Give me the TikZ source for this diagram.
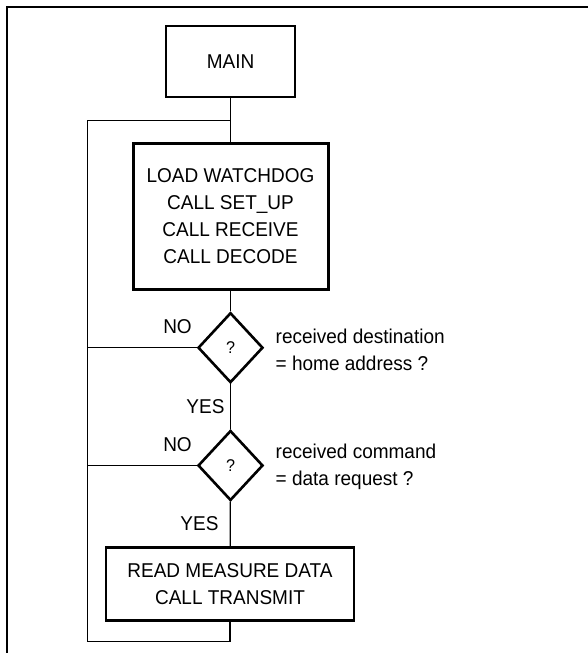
\documentclass[tikz,border=0pt]{standalone}
\usepackage{fontspec}
\setmainfont[FakeStretch=0.95]{Liberation Sans}
\usetikzlibrary{shapes.geometric}
\begin{document}
\begin{tikzpicture}[x=1pt,y=-1pt,
  lbl/.style={font=\fontsize{20}{27}\selectfont, inner sep=0pt},
  procbox/.style={draw, align=center, inner sep=0pt, font=\fontsize{20}{27}\selectfont},
  decision/.style={draw, diamond, line width=2.6pt, inner sep=0pt, minimum width=65pt, minimum height=70pt, aspect=0.93, font=\fontsize{17}{18}\selectfont},
  conn/.style={line width=1.3pt}]
\useasboundingbox (0,0) rectangle (587,653);
% outer frame (top and left)
\coordinate (ftl) at (7,7);
\coordinate (ftr) at (590,7);
\coordinate (fbl) at (7,656);
\draw[line width=2.2pt] (ftr) -- (ftl) -- (fbl);

\node[procbox, line width=2pt, minimum width=129pt, minimum height=71pt] (main) at (230.5,61.5) {MAIN};
\node[procbox, line width=3pt, minimum width=195pt, minimum height=146pt] (load) at (230.5,216)
  {LOAD WATCHDOG\\CALL SET\_UP\\CALL RECEIVE\\CALL DECODE};
\node[decision] (d1) at (230.5,347.7) {?};
\node[decision] (d2) at (230.5,465.5) {?};
\node[procbox, line width=2.6pt, minimum width=248pt, minimum height=73pt] (read) at (230,583.7)
  {READ MEASURE DATA\\CALL TRANSMIT};

\coordinate (jtop) at (main.south |- 0,120.7);
\coordinate (ltop) at (87.3,120.7);
\coordinate (lbot) at (87.3,641.3);
\coordinate (bot) at (read.south |- 0,641.3);

\draw[conn] (main) -- (load);
\draw[conn] (jtop) -- (ltop) -- (lbot) -- (bot) -- (read.south);
\draw[conn] (load) -- (d1);
\draw[conn] (d1) -- (d2);
\draw[conn] (d2) -- (read);
\draw[conn] (d1.west) -- (ltop |- d1.west);
\draw[conn] (d2.west) -- (ltop |- d2.west);

\node[lbl] (no1) at (177.5,326.7) {NO};
\node[lbl] (no2) at (177.5,444.3) {NO};
\node[lbl] (yes1) at (205.5,406.7) {YES};
\node[lbl] (yes2) at (199.5,524) {YES};
\node[lbl, anchor=west, align=left] (c1) at (275.5,349.5) {received destination\\= home address ?};
\node[lbl, anchor=west, align=left] (c2) at (275.5,467) {received command\\= data request ?};
\end{tikzpicture}
\end{document}
